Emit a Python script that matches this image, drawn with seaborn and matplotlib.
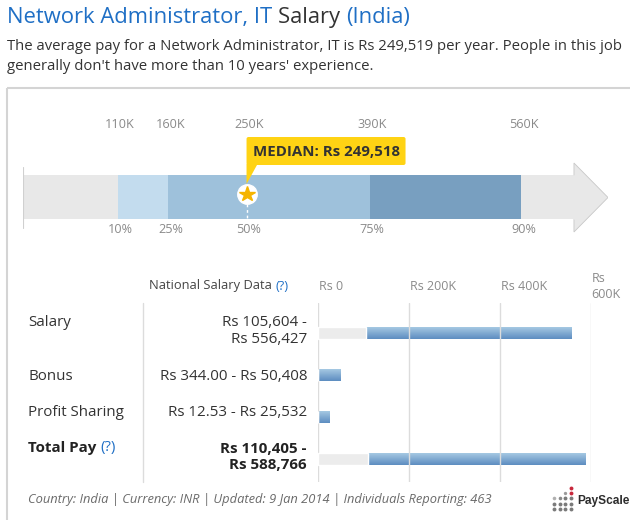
import matplotlib
matplotlib.use("Agg")
import matplotlib.pyplot as plt
import seaborn as sns
import numpy as np
import pandas as pd
from matplotlib.patches import Polygon, FancyBboxPatch
from matplotlib.colors import LinearSegmentedColormap

# ---------------- data ----------------
title_parts = ["Network Administrator, IT ", "Salary ", "(India)"]
subtitle_lines = [
    "The average pay for a Network Administrator, IT is Rs 249,519 per year. People in this job",
    "generally don't have more than 10 years' experience.",
]
percentile_names = ["10%", "25%", "50%", "75%", "90%"]
percentile_values = [105604, 162000, 249518, 387000, 556427]
percentile_labels = ["110K", "160K", "250K", "390K", "560K"]
median_value = 249518
median_label = "MEDIAN: Rs 249,518"

categories = ["Salary", "Bonus", "Profit Sharing", "Total Pay"]
range_low = [105604, 344.00, 12.53, 110405]
range_high = [556427, 50408, 25532, 588766]
range_text = ["Rs 105,604 -\nRs 556,427", "Rs 344.00 - Rs 50,408",
              "Rs 12.53 - Rs 25,532", "Rs 110,405 -\nRs 588,766"]
axis_ticks = [0, 200000, 400000, 600000]
axis_tick_labels = ["Rs 0", "Rs 200K", "Rs 400K", "Rs\n600K"]
footer = "Country: India | Currency: INR | Updated: 9 Jan 2014 | Individuals Reporting: 463"

# ---------------- style ----------------
sns.set_theme(style="white")
plt.rcParams["font.family"] = ["Open Sans", "DejaVu Sans"]

W, H = 630, 520
fig = plt.figure(figsize=(W / 100, H / 100), dpi=100)
fig.patch.set_facecolor("white")

BLUE = "#1f6fc5"
DARK = "#333333"
GRAY = "#8a8a8a"


def ax_px(l, t, r, b, **kw):
    return fig.add_axes([l / W, 1 - b / H, (r - l) / W, (b - t) / H], **kw)


# back overlay in pixel coordinates
ov = fig.add_axes([0, 0, 1, 1])
ov.set_xlim(0, W)
ov.set_ylim(H, 0)
ov.axis("off")
renderer = fig.canvas.get_renderer()


def run_text(axis, x, y, parts, **kw):
    for s, color, extra in parts:
        k = dict(kw)
        k.update(extra)
        t = axis.text(x, y, s, color=color, ha="left", va="center", **k)
        bb = t.get_window_extent(renderer)
        x += bb.width
    return x


# title & subtitle
run_text(ov, 7, 17, [(title_parts[0], BLUE, {}), (title_parts[1], DARK, {}),
                     (title_parts[2], BLUE, {})], fontsize=15.8)
for i, line in enumerate(subtitle_lines):
    ov.text(7, 47 + 19 * i, line, fontsize=10.7, color=DARK, ha="left", va="center")

# box border
ov.plot([7, 7], [88, 520], color="#d4d4d4", lw=1.5, solid_capstyle="butt")
ov.plot([7, 630], [88, 88], color="#d4d4d4", lw=1.5, solid_capstyle="butt")

# ---------------- percentile arrow ----------------
arrow_end = 615000
arrow_tip = 653000
aa = ax_px(23, 150, 608, 240)
aa.set_xlim(0, arrow_tip)
aa.set_ylim(240, 150)
aa.axis("off")
aa.patch.set_alpha(0)
yc, hh = 197, 44
aa.barh(yc, arrow_end, left=0, height=hh, color="#e8e8e8", lw=0)
aa.add_patch(Polygon([[arrow_end, 163], [arrow_tip, 197.5], [arrow_end, 232]],
                     closed=True, facecolor="#e8e8e8", edgecolor="#c8c8c8", lw=0.6))
aa.plot([arrow_end, arrow_end], [175.5, 218.5], color="#e8e8e8", lw=1.5)
seg_colors = ["#c3dcee", "#9ec1db", "#9ec1db", "#789fc0"]
for i in range(4):
    aa.barh(yc, percentile_values[i + 1] - percentile_values[i], left=percentile_values[i],
            height=hh, color=seg_colors[i], lw=0)
aa.plot([0, 0], [167, 228], color="#d0d0d0", lw=0.8)

for v, pl, vl in zip(percentile_values, percentile_names, percentile_labels):
    aa.text(v + 2500, 229.5, pl, ha="center", va="center", fontsize=9.1, color=GRAY)
    aa.text(v + 2500, 124, vl, ha="center", va="center", fontsize=9.1, color=GRAY,
            clip_on=False)

# median marker
aa.plot([median_value, median_value], [204, 219], color="white", lw=1, ls=(0, (2, 2)))
aa.plot([median_value], [194], marker="o", ms=14, color="white", mec="white")
aa.plot([median_value], [194], marker="*", ms=11.5, color="#f5b400", mec="#f5b400")

# callout (front overlay)
mx = aa.transData.transform((median_value, 0))[0]
fo = fig.add_axes([0, 0, 1, 1])
fo.set_xlim(0, W)
fo.set_ylim(H, 0)
fo.axis("off")
fo.patch.set_alpha(0)
t = fo.text(mx + 6, 151.5, median_label, fontsize=10.8, fontweight="bold", color=DARK,
            ha="left", va="center", zorder=5)
tw = t.get_window_extent(renderer).width
box_r = mx + 6 + tw + 6
fo.add_patch(FancyBboxPatch((mx, 137), box_r - mx, 28,
                            boxstyle="round,pad=0,rounding_size=2",
                            facecolor="#ffd314", edgecolor="none", zorder=3))
fo.add_patch(Polygon([[mx, 164], [mx + 11, 164], [mx, 184]], closed=True,
                     facecolor="#ffd314", edgecolor="none", zorder=3))

# ---------------- range bars ----------------
ROW0, STEP = 333, 42
ab = ax_px(318, 303, 591, 482)
df = pd.DataFrame({"category": categories, "low": range_low, "high": range_high})
sns.barplot(data=df, x="high", y="category", orient="y", color="#6e9bc8",
            width=0.29, saturation=1, ax=ab)
blue_patches = list(ab.patches)
cmap = LinearSegmentedColormap.from_list("bar", ["#abcde6", "#5d8dc0"])
grad = np.linspace(0, 1, 64).reshape(-1, 1)
for p in blue_patches:
    x0, y0, w, h = p.get_x(), p.get_y(), p.get_width(), p.get_height()
    p.set_facecolor("none")
    p.set_edgecolor("none")
    im = ab.imshow(grad, extent=[x0, x0 + w, y0 + h, y0], origin="upper",
                   aspect="auto", cmap=cmap, zorder=0.5)
    im.set_clip_path(p)
sns.barplot(data=df, x="low", y="category", orient="y", color="#ececec",
            width=0.29, saturation=1, ax=ab)
ab.set_xlim(0, 600000)
ab.set_ylim(3 + (482 - 459) / STEP, -(ROW0 - 303) / STEP)
ab.set_xticks(axis_ticks)
ab.set_xticklabels([])
ab.set_yticks([])
ab.set_xlabel("")
ab.set_ylabel("")
ab.tick_params(length=0)
ab.grid(axis="x", color="#dcdcdc", lw=1)
ab.set_axisbelow(True)
for s in ab.spines.values():
    s.set_visible(False)
ab.patch.set_alpha(0)
for tk, lb in zip(axis_ticks, axis_tick_labels):
    ab.text(tk + 1500, 1 + (303 - 286) / 179, lb, transform=ab.get_xaxis_transform(),
            ha="left", va="center", fontsize=9.0, color=GRAY, linespacing=1.3)

# table texts
ov.plot([143, 143], [303, 482], color="#dcdcdc", lw=1)
run_text(ov, 149, 286, [("National Salary Data ", "#444444", {}), ("(?)", BLUE, {})],
         fontsize=9.3)
row_y = [322, 376, 412, 448]
FS = 10.9
for i, (c, rt) in enumerate(zip(categories, range_text)):
    bold = c == "Total Pay"
    if bold:
        run_text(ov, 28, row_y[i], [("Total Pay ", "#222222", {"fontweight": "bold"}),
                                    ("(?)", BLUE, {})], fontsize=FS)
    else:
        ov.text(28, row_y[i], c, fontsize=FS, color=DARK, ha="left", va="center")
    if "\n" in rt:
        ov.text(307, row_y[i] + 9, rt, fontsize=FS, color="#222222" if bold else DARK,
                fontweight="bold" if bold else "normal", ha="right", va="center",
                linespacing=1.12, multialignment="right")
    else:
        ov.text(307, row_y[i], rt, fontsize=FS, color=DARK, ha="right", va="center")

# footer
ov.text(28, 500, footer, fontsize=9.3, style="italic", color="#6a6a6a", ha="left", va="center")

# PayScale logo
gx = [554, 559.5, 565, 570.5]
for r, gy in enumerate([498, 503.5, 509]):
    for c, xx in enumerate(gx):
        if r == 0 and c < 2:
            ov.plot(xx, gy, "o", ms=2.6, color="#b0b0b0" if c == 0 else "#8a8a8a", mew=0)
        else:
            ov.plot(xx, gy, "o", ms=2.8, color="#7a7a7a", mew=0)
ov.plot(570.5, 487.5, "o", ms=2.8, color="#c8283c", mew=0)
ov.plot(570.5, 492.5, "o", ms=2.8, color="#c8283c", mew=0)
ov.plot(565, 493, "o", ms=2.4, color="#9a9a9a", mew=0)
ov.text(577, 501, "PayScale", fontsize=8.6, fontweight="bold", color="#2d2d2d",
        ha="left", va="center", family=["Liberation Sans", "DejaVu Sans"])

fig.savefig("out.png", dpi=100, facecolor="white")
